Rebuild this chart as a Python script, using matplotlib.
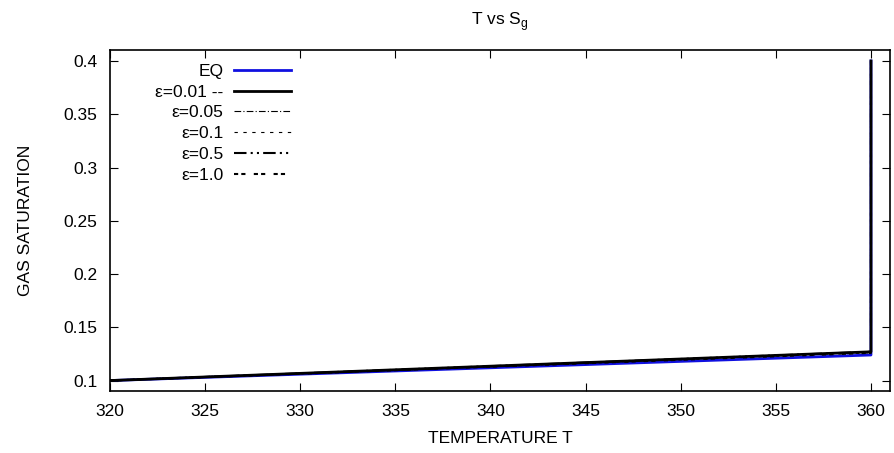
import numpy as np
import matplotlib.pyplot as plt

plt.rcParams['font.family'] = ['Liberation Sans', 'DejaVu Sans']

# data
temps = [320, 360, 360]
sg_eq = [0.100, 0.124, 0.400]
sg_001 = [0.100, 0.127, 0.400]
sg_005 = [0.100, 0.127, 0.400]
sg_01 = [0.100, 0.126, 0.400]
sg_05 = [0.100, 0.127, 0.400]
sg_10 = [0.100, 0.126, 0.400]

labels = ['EQ', 'ε=0.01 --', 'ε=0.05', 'ε=0.1', 'ε=0.5', 'ε=1.0']
xticks = [320, 325, 330, 335, 340, 345, 350, 355, 360]
yticks = [0.1, 0.15, 0.2, 0.25, 0.3, 0.35, 0.4]

fs = 12.5
fig = plt.figure(figsize=(8.94, 4.53), dpi=100)
ax = fig.add_axes([110/894, 1-391/453, (890-110)/894, (391-50)/453])

ax.plot(temps, sg_eq, color='#1010e0', lw=2, label=labels[0])
ax.plot(temps, sg_001, color='black', lw=2, label=labels[1])
ax.plot(temps, sg_005, color='black', lw=0.8, dashes=(6, 2, 1, 2), label=labels[2])
ax.plot(temps, sg_01, color='black', lw=0.8, dashes=(3, 5), label=labels[3])
ax.plot(temps, sg_05, color='black', lw=1.5, dashes=(6, 2, 1, 2, 1, 2), label=labels[4])
ax.plot(temps, sg_10, color='black', lw=1.5, dashes=(2, 1.5, 2, 4), label=labels[5])

ax.set_xlim(320, 361)
ax.set_ylim(0.0902, 0.4103)
ax.set_xticks(xticks)
ax.set_yticks(yticks)
ax.set_yticklabels([f'{v:g}' for v in yticks])
ax.tick_params(direction='in', top=True, right=True, length=6, labelsize=fs, pad=9)
for s in ax.spines.values():
    s.set_linewidth(1.2)

ax.set_xlabel('TEMPERATURE T', fontsize=fs, labelpad=9)
ax.set_ylabel('GAS SATURATION', fontsize=fs, labelpad=22)
ax.set_title('T vs S$_\\mathregular{g}$', fontsize=fs, pad=18)

ax.legend(loc='upper left', bbox_to_anchor=(0.04, 1.0), markerfirst=False, frameon=False,
          fontsize=fs, handlelength=3.3, labelspacing=0.32, borderpad=0.3, handletextpad=0.6)

fig.savefig('out.png', dpi=100)
